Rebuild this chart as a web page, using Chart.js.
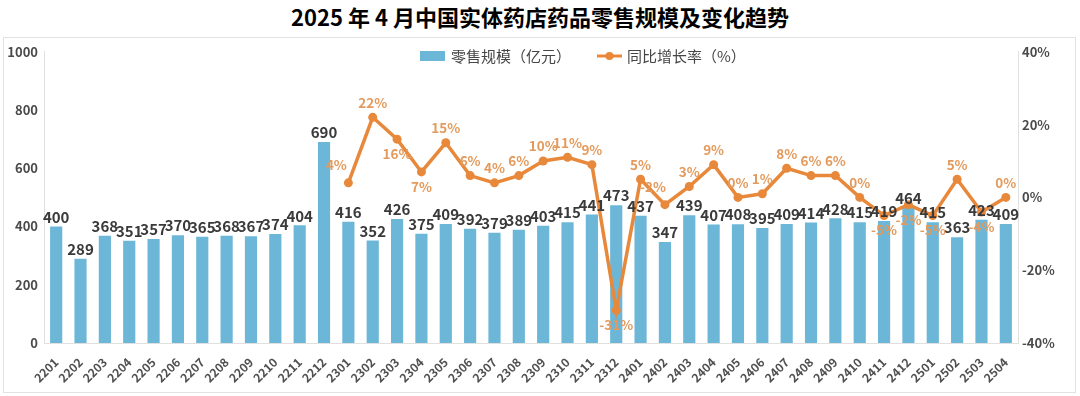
<!DOCTYPE html>
<html>
<head>
<meta charset="utf-8">
<script src="https://cdn.jsdelivr.net/npm/chart.js@4"></script>
<style>
  html, body { margin: 0; padding: 0; background: #fff; }
  body { width: 1080px; height: 396px; position: relative; overflow: hidden; font-family: "Noto Sans CJK SC", "Noto Sans", sans-serif; }
  #title { position: absolute; left: 0; top: 2px; width: 1080px; text-align: center; font-size: 22px; font-weight: bold; color: #000; line-height: 28px; }
  #box { position: absolute; left: 3px; top: 37px; width: 1071px; height: 354px; border: 1px solid #e2e2e2; }
</style>
</head>
<body>
<div id="title">2025 年 4 月中国实体药店药品零售规模及变化趋势</div>
<div id="box"><canvas id="c" width="1071" height="354"></canvas></div>
<script>
// ===== データ =====
var months = [
  "2201","2202","2203","2204","2205","2206","2207","2208","2209","2210","2211","2212",
  "2301","2302","2303","2304","2305","2306","2307","2308","2309","2310","2311","2312",
  "2401","2402","2403","2404","2405","2406","2407","2408","2409","2410","2411","2412",
  "2501","2502","2503","2504"
];
// 零售规模（亿元）
var sales = [
  400, 289, 368, 351, 357, 370, 365, 368, 367, 374, 404, 690,
  416, 352, 426, 375, 409, 392, 379, 389, 403, 415, 441, 473,
  437, 347, 439, 407, 408, 395, 409, 414, 428, 415, 419, 464,
  415, 363, 423, 409
];
// 同比增长率（%）— 2022年は無し
var growth = [
  null, null, null, null, null, null, null, null, null, null, null, null,
  4, 22, 16, 7, 15, 6, 4, 6, 10, 11, 9, -31,
  5, -2, 3, 9, 0, 1, 8, 6, 6, 0, -5, -2,
  -5, 5, -4, 0
];
// 増長率ラベルの位置（a=上, b=下, l=左上）
var growthLabelPos = [
  "", "", "", "", "", "", "", "", "", "", "", "",
  "l", "a", "b", "b", "a", "a", "a", "a", "a", "a", "a", "b",
  "a", "l", "a", "a", "a", "a", "a", "a", "a", "a", "b", "b",
  "b", "a", "b", "a"
];
var leftTicks = [0, 200, 400, 600, 800, 1000];
var rightTicks = [-40, -20, 0, 20, 40];

var BLUE = "#6cb6d8";
var ORANGE = "#e8883a";
var FONT = "'Noto Sans CJK SC', 'Noto Sans', sans-serif";

// ===== データラベル + 凡例 =====
var labelPlugin = {
  id: "labels",
  afterDatasetsDraw: function (chart) {
    var ctx = chart.ctx;
    ctx.save();
    // 棒グラフの値
    var barMeta = chart.getDatasetMeta(0);
    ctx.font = "bold 15px " + FONT;
    ctx.fillStyle = "#3a3a3a";
    ctx.textAlign = "center";
    ctx.textBaseline = "bottom";
    barMeta.data.forEach(function (bar, i) {
      ctx.fillText(String(sales[i]), bar.x, bar.y - 2);
    });
    // 折れ線の値
    var lineMeta = chart.getDatasetMeta(1);
    ctx.font = "600 13.5px " + FONT;
    ctx.fillStyle = "#e39a5c";
    lineMeta.data.forEach(function (pt, i) {
      if (growth[i] == null) return;
      var txt = growth[i] + "%";
      var pos = growthLabelPos[i];
      if (pos === "b") {
        ctx.textBaseline = "top";
        ctx.fillText(txt, pt.x, pt.y + 8);
      } else if (pos === "l") {
        ctx.textBaseline = "bottom";
        ctx.fillText(txt, pt.x - 12, pt.y - 11);
      } else {
        ctx.textBaseline = "bottom";
        ctx.fillText(txt, pt.x, pt.y - 8);
      }
    });
    // 凡例
    ctx.font = "15px " + FONT;
    ctx.textAlign = "left";
    ctx.textBaseline = "middle";
    var ly = 18;
    ctx.fillStyle = BLUE;
    ctx.fillRect(416, ly - 5, 25, 10);
    ctx.fillStyle = "#454545";
    ctx.fillText("零售规模（亿元）", 447, ly);
    ctx.strokeStyle = ORANGE;
    ctx.lineWidth = 3;
    ctx.beginPath();
    ctx.moveTo(593, ly);
    ctx.lineTo(618, ly);
    ctx.stroke();
    ctx.fillStyle = ORANGE;
    ctx.beginPath();
    ctx.arc(605.5, ly, 4, 0, Math.PI * 2);
    ctx.fill();
    ctx.fillStyle = "#454545";
    ctx.fillText("同比增长率（%）", 623, ly);
    ctx.restore();
  }
};

new Chart(document.getElementById("c"), {
  data: {
    labels: months,
    datasets: [
      {
        type: "bar",
        label: "零售规模（亿元）",
        data: sales,
        yAxisID: "y",
        backgroundColor: BLUE,
        barPercentage: 0.5,
        categoryPercentage: 1,
        order: 2,
      },
      {
        type: "line",
        label: "同比增长率（%）",
        data: growth,
        yAxisID: "y2",
        borderColor: ORANGE,
        backgroundColor: ORANGE,
        borderWidth: 3.5,
        pointRadius: 4.5,
        pointBackgroundColor: ORANGE,
        pointBorderWidth: 0,
        tension: 0,
        spanGaps: false,
        order: 1,
      },
    ],
  },
  options: {
    responsive: false,
    animation: false,
    devicePixelRatio: 1,
    layout: { padding: { top: 10, left: 0, right: 0, bottom: 0 } },
    plugins: { legend: { display: false }, tooltip: { enabled: false } },
    scales: {
      x: {
        grid: { display: false, drawTicks: false },
        border: { color: "#e0e0e0" },
        ticks: {
          autoSkip: false, minRotation: 45, maxRotation: 45,
          color: "#505050", padding: 12,
          font: { family: FONT, size: 12, weight: "bold" },
        },
        afterFit: function (s) { s.height = 49; },
      },
      y: {
        position: "left",
        min: 0, max: 1000,
        afterBuildTicks: function (s) { s.ticks = leftTicks.map(function (v) { return { value: v }; }); },
        grid: { display: false, drawTicks: false },
        border: { color: "#e0e0e0" },
        ticks: {
          color: "#4a4a4a", padding: 6, font: { family: FONT, size: 13, weight: "bold" },
          callback: function (v) { return String(v); },
        },
        afterFit: function (s) { s.width = 40; },
      },
      y2: {
        position: "right",
        min: -40, max: 40,
        afterBuildTicks: function (s) { s.ticks = rightTicks.map(function (v) { return { value: v }; }); },
        grid: { display: false, drawTicks: false },
        border: { color: "#e0e0e0" },
        ticks: {
          color: "#4a4a4a", padding: 4, font: { family: FONT, size: 13, weight: "bold" },
          callback: function (v) { return v + "%"; },
        },
        afterFit: function (s) { s.width = 57; },
      },
    },
  },
  plugins: [labelPlugin],
});
</script>
</body>
</html>
